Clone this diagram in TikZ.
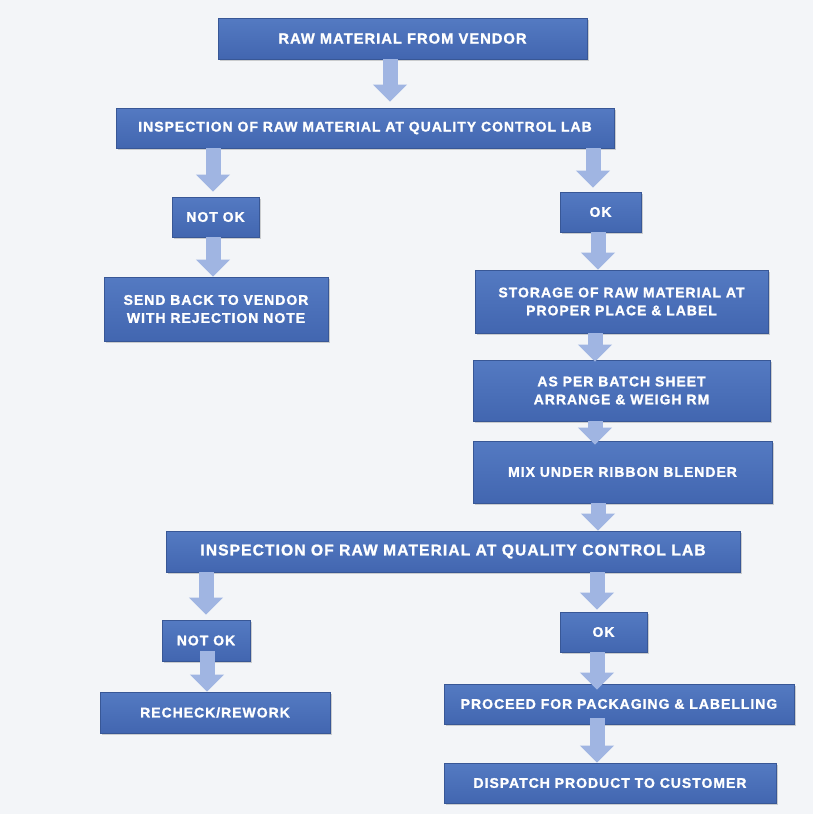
\documentclass[tikz,border=0pt]{standalone}
\usepackage{fontspec}
\newfontfamily\boxfont[LetterSpace=7, BoldFeatures={FakeBold=1.3}]{Liberation Sans}
\usetikzlibrary{arrows.meta,shadows}
\definecolor{canvas}{RGB}{243,245,248}
\definecolor{boxtop}{RGB}{84,122,194}
\definecolor{boxbot}{RGB}{66,102,176}
\definecolor{arrowblue}{RGB}{160,181,226}
\tikzset{
  stagebox/.style={rectangle, top color=boxtop, bottom color=boxbot,
    draw=boxbot!85!black, line width=0.6pt,
    drop shadow={shadow xshift=1.5pt, shadow yshift=-2pt, opacity=0.35},
    text=white, align=center, inner sep=0pt,
    font=\boxfont\bfseries\fontsize{14}{18}\selectfont},
  bigtext/.style={font=\boxfont\bfseries\fontsize{#1}{18}\selectfont},
  flowarrow/.style={draw=arrowblue, line width=15pt,
    -{Triangle[width=33pt,length=17pt]}},
}
\begin{document}
\begin{tikzpicture}[x=1pt,y=-1pt]
\fill[canvas] (0,0) rectangle (813,814);
\useasboundingbox (0,0) rectangle (813,814);

% process stages
\node[stagebox, bigtext=14.7, minimum width=369pt, minimum height=41pt] (raw) at (402.5,38.5) {RAW MATERIAL FROM VENDOR};
\node[stagebox, minimum width=498pt, minimum height=40pt] (insp1) at (365,128) {INSPECTION OF RAW MATERIAL AT QUALITY CONTROL LAB};
\node[stagebox, minimum width=87pt, minimum height=40pt] (nok1) at (215.5,217) {NOT OK};
\node[stagebox, minimum width=81pt, minimum height=40pt] (ok1) at (600.5,212) {OK};
\node[stagebox, minimum width=224pt, minimum height=64pt] (send) at (216,309) {SEND BACK TO VENDOR\\WITH REJECTION NOTE};
\node[stagebox, minimum width=293pt, minimum height=63pt] (store) at (621.5,301.5) {STORAGE OF RAW MATERIAL AT\\PROPER PLACE \& LABEL};
\node[stagebox, minimum width=297pt, minimum height=61pt] (batch) at (621.5,390.5) {AS PER BATCH SHEET\\ARRANGE \& WEIGH RM};
\node[stagebox, minimum width=299pt, minimum height=62pt] (mix) at (622.5,472) {MIX UNDER RIBBON BLENDER};
\node[stagebox, bigtext=15.6, minimum width=574pt, minimum height=41pt] (insp2) at (453,551.5) {INSPECTION OF RAW MATERIAL AT QUALITY CONTROL LAB};
\node[stagebox, minimum width=88pt, minimum height=41pt] (nok2) at (206,640.5) {NOT OK};
\node[stagebox, minimum width=87pt, minimum height=40pt] (ok2) at (603.5,632) {OK};
\node[stagebox, minimum width=230pt, minimum height=41pt] (recheck) at (215,712.5) {RECHECK/REWORK};
\node[stagebox, minimum width=350pt, minimum height=40pt] (proceed) at (619,704) {PROCEED FOR PACKAGING \& LABELLING};
\node[stagebox, minimum width=332pt, minimum height=40pt] (dispatch) at (610,783) {DISPATCH PRODUCT TO CUSTOMER};

% block arrows between stages
\draw[flowarrow, shorten >=6pt] ([xshift=-12.5pt]raw.south) -- ([xshift=-12.5pt]raw.south |- insp1.north);
\draw[flowarrow, shorten >=5pt] ([xshift=-2.5pt]nok1.north |- insp1.south) -- ([xshift=-2.5pt]nok1.north);
\draw[flowarrow, shorten >=4pt] ([xshift=-7.5pt]ok1.north |- insp1.south) -- ([xshift=-7.5pt]ok1.north);
\draw[flowarrow] ([xshift=-2.5pt]nok1.south) -- ([xshift=-2.5pt]nok1.south |- send.north);
\draw[flowarrow] ([xshift=-2.5pt]ok1.south) -- ([xshift=-2.5pt]ok1.south |- store.north);
\draw[flowarrow, shorten >=-2pt] ([xshift=-26.5pt]store.south) -- ([xshift=-26.5pt]store.south |- batch.north);
\draw[flowarrow, shorten >=-4pt] ([xshift=-26.5pt]batch.south) -- ([xshift=-26.5pt]batch.south |- mix.north);
\draw[flowarrow] ([xshift=-24.5pt]mix.south) -- ([xshift=-24.5pt]mix.south |- insp2.north);
\draw[flowarrow, shorten >=5pt] (nok2.north |- insp2.south) -- (nok2.north);
\draw[flowarrow, shorten >=2pt] ([xshift=-6.5pt]ok2.north |- insp2.south) -- ([xshift=-6.5pt]ok2.north);
\draw[flowarrow, shorten <=-10pt] ([xshift=1pt]nok2.south) -- ([xshift=1pt]nok2.south |- recheck.north);
\draw[flowarrow, shorten >=-6pt] ([xshift=-6.5pt]ok2.south) -- ([xshift=-6.5pt]ok2.south |- proceed.north);
\draw[flowarrow, shorten <=-6pt] ([xshift=-22pt]proceed.south) -- ([xshift=-22pt]proceed.south |- dispatch.north);
\end{tikzpicture}
\end{document}
